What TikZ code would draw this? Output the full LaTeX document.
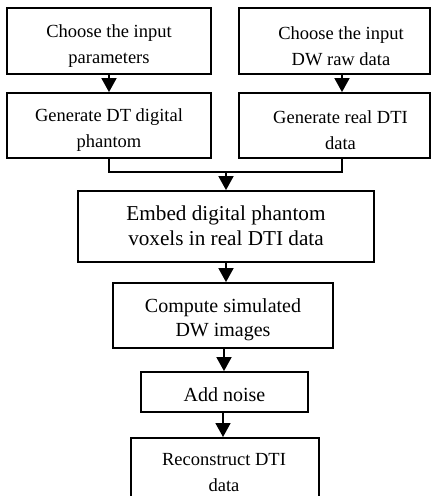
\documentclass[tikz,border=0pt]{standalone}
\usepackage{fontspec}
\setmainfont{Liberation Serif}
\usetikzlibrary{arrows.meta}
\tikzset{
  box/.style={draw=black, line width=1.8pt, fill=white, inner sep=0pt, anchor=center},
  txt/.style={inner sep=0pt, align=center, anchor=center},
  smalltext/.style={font=\fontsize{18.5}{26}\selectfont},
  midtext/.style={font=\fontsize{20}{24.5}\selectfont},
  bigtext/.style={font=\fontsize{21.2}{24.5}\selectfont},
  flow/.style={line width=1.8pt, -{Triangle[width=15pt,length=14pt]}},
  link/.style={line width=1.8pt}
}
\begin{document}
\begin{tikzpicture}[x=1pt,y=1pt]
\useasboundingbox (0,0) rectangle (436,-496);
\clip (0,0) rectangle (436,-496);
\node[box, minimum width=204pt, minimum height=66pt] (b1) at (109,-41) {};
\node[box, minimum width=191pt, minimum height=66pt] (b2) at (334.5,-41) {};
\node[box, minimum width=204pt, minimum height=65pt] (b3) at (109,-125.5) {};
\node[box, minimum width=191pt, minimum height=65pt] (b4) at (334.5,-125.5) {};
\node[box, minimum width=296pt, minimum height=71pt] (b5) at (226,-226.5) {};
\node[box, minimum width=220pt, minimum height=65pt] (b6) at (223,-315.5) {};
\node[box, minimum width=167pt, minimum height=40pt] (b7) at (224.5,-392) {};
\node[box, minimum width=188pt, minimum height=80pt, anchor=north] (b8) at (225,-437) {};
\node[txt, smalltext] (t1) at ([yshift=-5pt]b1.center) {Choose the input\\parameters};
\node[txt, smalltext] (t2) at ([xshift=6.5pt,yshift=-5pt]b2.center) {Choose the input\\DW raw data};
\node[txt, smalltext] (t3) at ([yshift=-5pt]b3.center) {Generate DT digital\\phantom};
\node[txt, smalltext] (t4) at ([xshift=6pt,yshift=-5pt]b4.center) {Generate real DTI\\data};
\node[txt, bigtext] (t5) at ([yshift=1pt]b5.center) {Embed digital phantom\\voxels in real DTI data};
\node[txt, midtext] (t6) at ([yshift=-4pt]b6.center) {Compute simulated\\DW images};
\node[txt, midtext] (t7) at ([yshift=-3pt]b7.center) {Add noise};
\node[txt, smalltext] (t8) at (224,-473) {Reconstruct DTI\\data};
\coordinate (m) at (226,-172);
\draw[flow] (b1.south) -- (b3.north);
\draw[flow] ([xshift=7.5pt]b2.south) -- ([xshift=7.5pt]b4.north);
\draw[link] (b3.south) |- (m);
\draw[link] ([xshift=7.5pt]b4.south) |- (m);
\draw[flow] (m) -- (b5.north);
\draw[flow] ([xshift=3pt]b6.north |- b5.south) -- ([xshift=3pt]b6.north);
\draw[flow] ([xshift=1pt]b6.south) -- ([xshift=-0.5pt]b7.north);
\draw[flow] ([xshift=-1.5pt]b7.south) -- ([xshift=-2pt]b8.north);
\end{tikzpicture}
\end{document}
